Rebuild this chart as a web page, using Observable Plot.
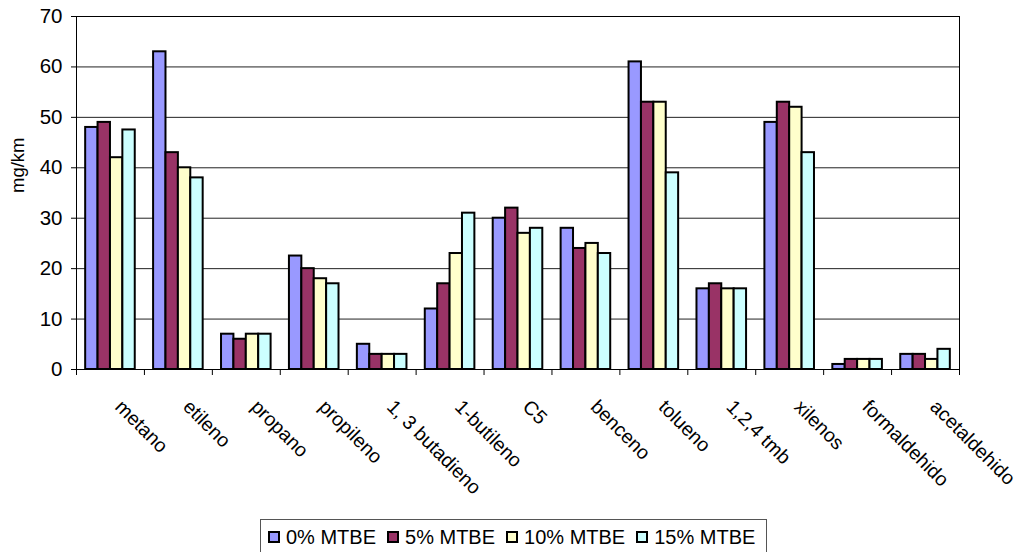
<!DOCTYPE html>
<html>
<head>
<meta charset="utf-8">
<script src="https://cdn.jsdelivr.net/npm/d3@7"></script>
<script src="https://cdn.jsdelivr.net/npm/@observablehq/plot@0.6"></script>
<style>
  html, body { margin: 0; padding: 0; background: #fff; overflow: hidden; }
  #wrap { position: relative; width: 1022px; height: 552px; font-family: "Liberation Sans", Arial, sans-serif; }
  #legend {
    position: absolute; left: 260px; top: 519px; width: 507px; height: 38px;
    border: 1px solid #555; box-sizing: border-box; background: #fff;
    display: flex; align-items: center; padding-left: 7px; padding-bottom: 2px;
    font-size: 20px; color: #000; white-space: nowrap;
  }
  .item { display: flex; align-items: center; margin-right: 11px; flex-shrink: 0; }
  .sw { width: 12px; height: 12px; border: 2px solid #000; box-sizing: border-box; margin-right: 6px; }
</style>
</head>
<body>
<div id="wrap">
  <div id="chart"></div>
  <div id="legend"></div>
</div>
<script>
// Emission factors by compound (mg/km) for fuel blends with increasing MTBE content
const categories = ["metano", "etileno", "propano", "propileno", "1, 3 butadieno", "1-butileno", "C5",
  "benceno", "tolueno", "1,2,4 tmb", "xilenos", "formaldehido", "acetaldehido"];
const seriesNames = ["0% MTBE", "5% MTBE", "10% MTBE", "15% MTBE"];
const mtbe0  = [48, 63, 7, 22.5, 5, 12, 30, 28, 61, 16, 49, 1, 3];
const mtbe5  = [49, 43, 6, 20, 3, 17, 32, 24, 53, 17, 53, 2, 3];
const mtbe10 = [42, 40, 7, 18, 3, 23, 27, 25, 53, 16, 52, 2, 2];
const mtbe15 = [47.5, 38, 7, 17, 3, 31, 28, 23, 39, 16, 43, 2, 4];
const seriesColors = ["#9999FF", "#993366", "#FFFFCC", "#CCFFFF"];
const yTicks = [0, 10, 20, 30, 40, 50, 60, 70];

// Long table: one row per compound × blend
const seriesValues = [mtbe0, mtbe5, mtbe10, mtbe15];
const rows = [];
categories.forEach((c, ci) => {
  seriesNames.forEach((s, si) => {
    rows.push({category: c, ci, series: s, si, value: seriesValues[si][ci]});
  });
});

// Each compound occupies one unit on x; the four bars sit side by side inside it
const groupPad = 0.135;
const barW = 0.1825;
const font = "Liberation Sans, Arial, sans-serif";

const chart = Plot.plot({
  width: 1022,
  height: 515,
  marginLeft: 76,
  marginRight: 63,
  marginTop: 16,
  marginBottom: 146,
  style: {fontFamily: font, fontSize: "20px", color: "#000", background: "#fff"},
  x: {domain: [0, categories.length]},
  y: {domain: [0, 70]},
  color: {domain: seriesNames, range: seriesColors},
  marks: [
    Plot.ruleY(yTicks, {stroke: "#222", strokeWidth: 1}),
    Plot.rectY(rows, {
      x1: d => d.ci + groupPad + d.si * barW,
      x2: d => d.ci + groupPad + (d.si + 1) * barW,
      y1: 0,
      y2: "value",
      fill: "series",
      stroke: "#000",
      strokeWidth: 2
    }),
    Plot.frame({stroke: "#000", strokeWidth: 1}),
    Plot.axisY({ticks: yTicks, tickSize: 5, tickPadding: 9, label: null, fontSize: 20.5}),
    Plot.axisX({ticks: d3.range(categories.length + 1), tickSize: 6, tickFormat: () => "", label: null}),
    Plot.text(categories, {
      x: (d, i) => i + 0.5,
      y: 0,
      text: d => d,
      rotate: 45,
      textAnchor: "start",
      dx: 8,
      dy: 34,
      fontSize: 19.5,
      fill: "#000"
    }),
    Plot.text(["mg/km"], {
      frameAnchor: "left",
      text: d => d,
      rotate: -90,
      dx: -58,
      fontSize: 18.5,
      fill: "#000"
    })
  ]
});
document.getElementById("chart").appendChild(chart);

// Legend below the chart
const legend = d3.select("#legend");
seriesNames.forEach((s, i) => {
  const item = legend.append("div").attr("class", "item");
  item.append("div").attr("class", "sw").style("background", seriesColors[i]);
  item.append("span").text(s);
});
</script>
</body>
</html>
